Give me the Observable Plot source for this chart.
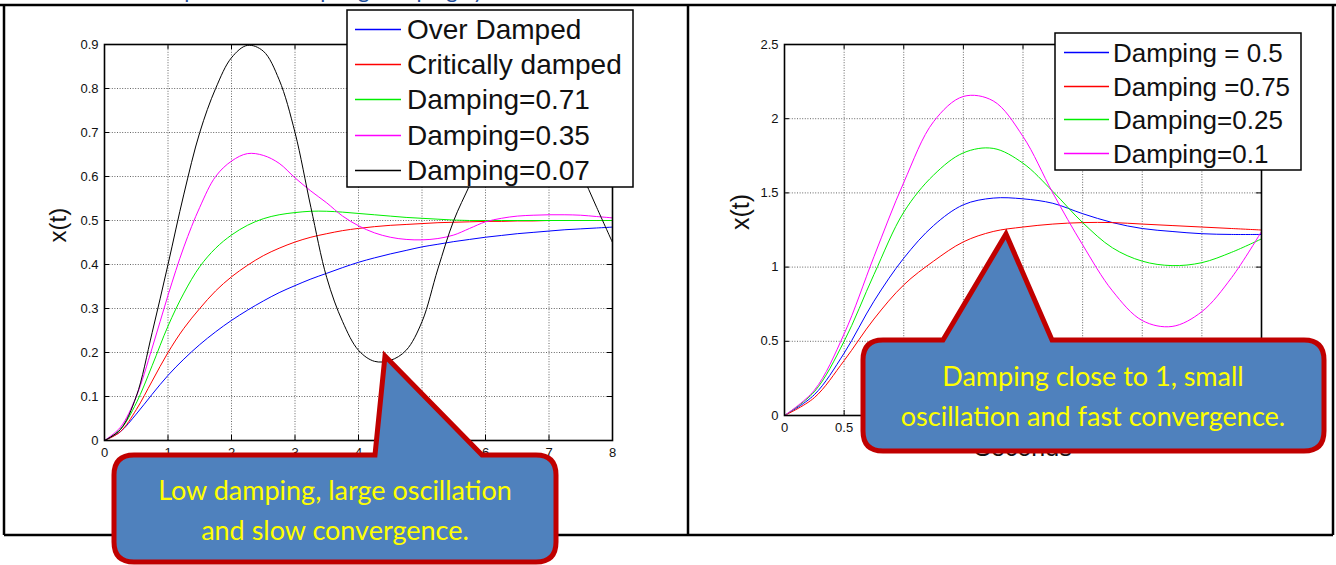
<!DOCTYPE html>
<html><head><meta charset="utf-8">
<script src="https://cdn.jsdelivr.net/npm/d3@7"></script>
<script src="https://cdn.jsdelivr.net/npm/@observablehq/plot@0.6"></script>
<style>
html,body{margin:0;padding:0;background:#fff;}
#root{position:relative;width:1336px;height:565px;overflow:hidden;background:#fff;font-family:"Liberation Sans",Arial,sans-serif;}
#root > svg{position:absolute;}
</style></head><body><div id="root"></div>
<script>
// ---------- Left chart data ----------
const tLeft = [0,0.25,0.5,0.75,1,1.25,1.5,1.75,2,2.25,2.5,2.75,3,3.25,3.5,3.75,4,4.25,4.5,4.75,5,5.25,5.5,5.75,6,6.25,6.5,6.75,7,7.25,7.5,7.75,8];
const leftNames = ["Over Damped","Critically damped","Damping=0.71","Damping=0.35","Damping=0.07"];
const leftColors = ["#0000ff","#ff0000","#00ee00","#ff00ff","#000000"];
const overDamped = [0,0.02,0.06,0.105,0.148,0.185,0.218,0.247,0.273,0.296,0.317,0.336,0.352,0.367,0.38,0.393,0.405,0.415,0.424,0.432,0.44,0.446,0.452,0.457,0.462,0.466,0.47,0.473,0.476,0.479,0.481,0.483,0.485];
const critDamped = [0,0.02,0.07,0.135,0.2,0.255,0.3,0.34,0.372,0.398,0.42,0.437,0.451,0.462,0.47,0.477,0.482,0.486,0.489,0.491,0.493,0.495,0.496,0.497,0.498,0.498,0.499,0.499,0.5,0.5,0.5,0.5,0.5];
const damp071 = [0,0.025,0.085,0.17,0.26,0.335,0.395,0.437,0.467,0.489,0.504,0.513,0.518,0.521,0.521,0.519,0.516,0.513,0.51,0.507,0.505,0.503,0.501,0.5,0.5,0.5,0.5,0.5,0.5,0.5,0.5,0.5,0.5];
const damp035 = [0,0.03,0.1,0.21,0.33,0.44,0.53,0.6,0.635,0.652,0.648,0.63,0.597,0.567,0.54,0.51,0.488,0.472,0.462,0.457,0.456,0.459,0.467,0.482,0.497,0.505,0.51,0.512,0.513,0.513,0.512,0.509,0.506];
const damp007 = [0,0.025,0.1,0.245,0.4,0.56,0.7,0.8,0.87,0.898,0.885,0.82,0.7,0.53,0.37,0.27,0.205,0.18,0.182,0.205,0.27,0.39,0.5,0.58,0.66,0.72,0.75,0.755,0.73,0.68,0.61,0.53,0.45];
const leftSeries = [overDamped, critDamped, damp071, damp035, damp007];
const leftXTicks = [0,1,2,3,4,5,6,7,8];
const leftYTicks = [0,0.1,0.2,0.3,0.4,0.5,0.6,0.7,0.8,0.9];

// ---------- Right chart data ----------
const tRight = [0,0.25,0.5,0.75,1,1.25,1.5,1.75,2,2.25,2.5,2.75,3,3.25,3.5,3.75,4];
const rightNames = ["Damping = 0.5","Damping =0.75","Damping=0.25","Damping=0.1"];
const rightColors = ["#0000ff","#ff0000","#00ee00","#ff00ff"];
const rDamp05 = [0,0.14,0.42,0.77,1.06,1.28,1.42,1.465,1.46,1.43,1.36,1.3,1.26,1.24,1.225,1.22,1.22];
const rDamp075 = [0,0.12,0.37,0.65,0.88,1.04,1.17,1.24,1.27,1.29,1.3,1.3,1.29,1.28,1.27,1.26,1.25];
const rDamp025 = [0,0.16,0.5,0.95,1.37,1.62,1.77,1.8,1.7,1.51,1.3,1.13,1.04,1.01,1.03,1.1,1.19];
const rDamp01 = [0,0.17,0.55,1.07,1.57,1.98,2.15,2.12,1.88,1.5,1.15,0.84,0.64,0.6,0.7,0.93,1.24];
const rightSeries = [rDamp05, rDamp075, rDamp025, rDamp01];
const rightXTicks = [0,0.5,1,1.5,2,2.5,3,3.5,4];
const rightYTicks = [0,0.5,1,1.5,2,2.5];

// ---------- Annotation texts ----------
const titleText = "Response of the spring damping system";
const leftCallout = ["Low damping, large oscillation","and slow convergence."];
const rightCallout = ["Damping close to 1, small","oscillation and fast convergence."];
const axisYLabel = "x(t)";
const axisXLabel = "Seconds";

const FONT = "Liberation Sans, Arial, sans-serif";
const fmt = d => String(+d.toFixed(2));

function buildChart({t, names, colors, series, xTicks, yTicks, xDomain, yDomain, width, height, mL, mR, mT, mB, labelDx, labelSize, xLabelDy}) {
  const data = [];
  series.forEach((vals, i) => vals.forEach((v, j) => data.push({t: t[j], v, s: names[i]})));
  const innerH = height - mT - mB;
  const innerW = width - mL - mR;
  return Plot.plot({
    width, height, marginLeft: mL, marginRight: mR, marginTop: mT, marginBottom: mB,
    style: {background: "transparent", fontFamily: FONT, overflow: "visible"},
    x: {domain: xDomain}, y: {domain: yDomain},
    color: {domain: names, range: colors},
    marks: [
      Plot.gridX(xTicks, {stroke: "#555", strokeOpacity: 1, strokeWidth: 0.9, strokeDasharray: "1,1.6"}),
      Plot.gridY(yTicks, {stroke: "#555", strokeOpacity: 1, strokeWidth: 0.9, strokeDasharray: "1,1.6"}),
      Plot.ruleX(xTicks, {x: d => d, insetTop: innerH - 5, stroke: "black"}),
      Plot.ruleX(xTicks, {x: d => d, insetBottom: innerH - 5, stroke: "black"}),
      Plot.ruleY(yTicks, {y: d => d, insetRight: innerW - 5, stroke: "black"}),
      Plot.ruleY(yTicks, {y: d => d, insetLeft: innerW - 5, stroke: "black"}),
      Plot.axisX(xTicks, {tickSize: 0, tickPadding: 7, fontSize: 13, label: null, tickFormat: fmt, fill: "#111"}),
      Plot.axisY(yTicks, {tickSize: 0, tickPadding: 6, fontSize: 13, label: null, tickFormat: fmt, fill: "#111"}),
      Plot.line(data, {x: "t", y: "v", z: "s", stroke: "s", strokeWidth: 1, curve: "catmull-rom"}),
      Plot.frame({stroke: "black", strokeWidth: 1.6}),
      Plot.text([axisYLabel], {text: d => d, frameAnchor: "left", dx: labelDx, rotate: -90, fontSize: labelSize, fill: "#111"}),
      Plot.text([axisXLabel], {text: d => d, frameAnchor: "bottom", dy: xLabelDy, fontSize: 25, fill: "#111"})
    ]
  });
}

const root = document.getElementById("root");

const left = buildChart({t: tLeft, names: leftNames, colors: leftColors, series: leftSeries,
  xTicks: leftXTicks, yTicks: leftYTicks, xDomain: [0, 8], yDomain: [0, 0.9],
  width: 688, height: 500, mL: 104, mR: 76, mT: 44, mB: 60, labelDx: -46, labelSize: 24, xLabelDy: 40});
left.style.left = "0px"; left.style.top = "0px";
root.appendChild(left);

const right = buildChart({t: tRight, names: rightNames, colors: rightColors, series: rightSeries,
  xTicks: rightXTicks, yTicks: rightYTicks, xDomain: [0, 4], yDomain: [0, 2.5],
  width: 648, height: 475, mL: 96, mR: 75, mT: 44, mB: 60, labelDx: -44, labelSize: 25, xLabelDy: 40});
right.style.left = "688px"; right.style.top = "0px";
root.appendChild(right);

// ---------- Overlay: frame, legends, callouts ----------
const svg = d3.select(root).append("svg")
  .attr("width", 1336).attr("height", 565)
  .style("left", "0px").style("top", "0px");

// title fragment (cut off at the top, as in the source image)
svg.append("text").attr("x", 150).attr("y", -2).attr("font-family", "Lato, sans-serif")
  .attr("font-size", 22).attr("fill", "#1f4e9a").text(titleText);

// table frame
const frame = svg.append("g").attr("stroke", "black").attr("stroke-width", 2.5).attr("fill", "none");
frame.append("line").attr("x1", 0).attr("x2", 1336).attr("y1", 5).attr("y2", 5);
frame.append("line").attr("x1", 4).attr("x2", 4).attr("y1", 5).attr("y2", 535);
frame.append("line").attr("x1", 688).attr("x2", 688).attr("y1", 5).attr("y2", 535);
frame.append("line").attr("x1", 1333).attr("x2", 1333).attr("y1", 5).attr("y2", 535);
frame.append("line").attr("x1", 4).attr("x2", 1333).attr("y1", 535).attr("y2", 535);

function legend(x, y, w, h, names, colors, fontSize, step, firstY, lineX0, lineX1, textX) {
  const g = svg.append("g");
  g.append("rect").attr("x", x).attr("y", y).attr("width", w).attr("height", h)
    .attr("fill", "white").attr("stroke", "black").attr("stroke-width", 1.5);
  names.forEach((n, i) => {
    const cy = Math.round(firstY + i * step) + 0.5;
    g.append("line").attr("x1", lineX0).attr("x2", lineX1).attr("y1", cy).attr("y2", cy)
      .attr("stroke", colors[i]).attr("stroke-width", 1.3);
    g.append("text").attr("x", textX).attr("y", cy).attr("dy", "0.35em")
      .attr("font-family", FONT).attr("font-size", fontSize).attr("fill", "#111").text(n);
  });
}
legend(347, 10, 286, 177, leftNames, leftColors, 28, 35.2, 29, 355, 401, 407);
legend(1055, 33, 246, 137, rightNames, rightColors, 26, 33.5, 52, 1064, 1109, 1113);

function callout(x0, y0, x1, y1, r, p1, tip, p2, lines, cx, ly0, lstep) {
  const path = `M${x0 + r},${y0} L${p1},${y0} L${tip[0]},${tip[1]} L${p2},${y0} L${x1 - r},${y0} Q${x1},${y0} ${x1},${y0 + r} L${x1},${y1 - r} Q${x1},${y1} ${x1 - r},${y1} L${x0 + r},${y1} Q${x0},${y1} ${x0},${y1 - r} L${x0},${y0 + r} Q${x0},${y0} ${x0 + r},${y0} Z`;
  svg.append("path").attr("d", path).attr("fill", "#4f81bd").attr("stroke", "#c00000")
    .attr("stroke-width", 5).attr("stroke-linejoin", "miter");
  lines.forEach((l, i) => {
    svg.append("text").attr("x", cx).attr("y", ly0 + i * lstep).attr("dy", "0.35em")
      .attr("text-anchor", "middle").attr("font-family", "Lato, sans-serif").attr("font-size", 27)
      .attr("fill", "#ffff00").text(l);
  });
}
callout(114, 455, 556, 562, 20, 375, [385, 356], 482, leftCallout, 335, 491, 40);
callout(863, 340, 1324, 451, 20, 943, [1006, 234], 1052, rightCallout, 1093, 377, 40);
</script>
</body></html>
